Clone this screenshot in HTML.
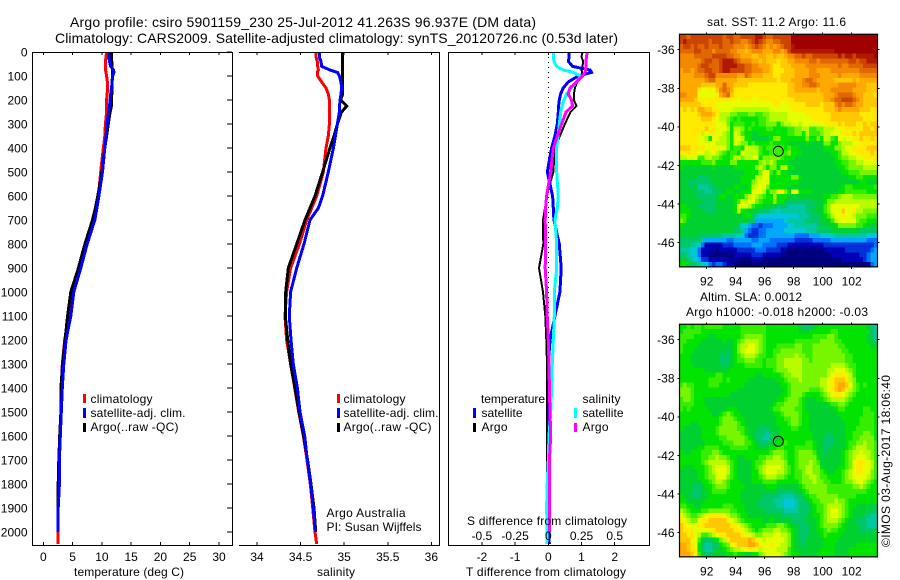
<!DOCTYPE html>
<html>
<head>
<meta charset="utf-8">
<title>Argo profile</title>
<style>
html,body{margin:0;padding:0;background:#fff;}
svg{display:block;}
text{font-family:"Liberation Sans",sans-serif;font-size:12px;fill:#000;}
.ttl{font-size:14px;}
.sm{font-size:12.5px;}
</style>
</head>
<body>
<svg id="fig" xmlns="http://www.w3.org/2000/svg" width="900" height="580" viewBox="0 0 900 580">
<text class="ttl" x="70" y="27" textLength="466" lengthAdjust="spacing">Argo profile: csiro 5901159_230 25-Jul-2012 41.263S 96.937E (DM data)</text>
<text class="ttl" x="55" y="43" textLength="563" lengthAdjust="spacing">Climatology: CARS2009. Satellite-adjusted climatology: synTS_20120726.nc (0.53d later)</text>

<g id="p1"></g>
<g id="p2"></g>
<g id="p3"></g>
<g id="m1"></g>
<g id="m2"></g>

<text x="129" y="576" text-anchor="middle" textLength="110" lengthAdjust="spacing">temperature (deg C)</text>
<text x="336" y="576" text-anchor="middle" textLength="38" lengthAdjust="spacing">salinity</text>
<text x="546" y="576" text-anchor="middle" textLength="160" lengthAdjust="spacing">T difference from climatology</text>
<text x="547" y="525" text-anchor="middle" textLength="160" lengthAdjust="spacing">S difference from climatology</text>

<g>
<rect x="83" y="394" width="3" height="9" fill="#f00"/>
<rect x="83" y="408" width="3" height="10" fill="#00f"/>
<rect x="83" y="423" width="3" height="9" fill="#000"/>
<text x="90.5" y="403" textLength="62" lengthAdjust="spacing">climatology</text>
<text x="90.5" y="417" textLength="95" lengthAdjust="spacing">satellite-adj. clim.</text>
<text x="90.5" y="431" textLength="88" lengthAdjust="spacing">Argo(..raw -QC)</text>
</g>
<g>
<rect x="337" y="394" width="3" height="9" fill="#f00"/>
<rect x="337" y="408" width="3" height="10" fill="#00f"/>
<rect x="337" y="423" width="3" height="9" fill="#000"/>
<text x="343.5" y="403" textLength="62" lengthAdjust="spacing">climatology</text>
<text x="343.5" y="417" textLength="95" lengthAdjust="spacing">satellite-adj. clim.</text>
<text x="343.5" y="431" textLength="88" lengthAdjust="spacing">Argo(..raw -QC)</text>
</g>
<text x="326.5" y="517" textLength="79" lengthAdjust="spacing">Argo Australia</text>
<text x="326.5" y="531" textLength="95" lengthAdjust="spacing">PI: Susan Wijffels</text>

<g>
<text x="481" y="403" textLength="64" lengthAdjust="spacing">temperature</text>
<text x="582.5" y="403" textLength="38" lengthAdjust="spacing">salinity</text>
<rect x="473" y="408" width="3" height="10" fill="#00f"/>
<rect x="473" y="423" width="3" height="9" fill="#000"/>
<rect x="574" y="408" width="3" height="10" fill="#0ff"/>
<rect x="574" y="423" width="3" height="9" fill="#f0f"/>
<text x="481.5" y="417" textLength="41" lengthAdjust="spacing">satellite</text>
<text x="481.5" y="431" textLength="26" lengthAdjust="spacing">Argo</text>
<text x="582.5" y="417" textLength="41" lengthAdjust="spacing">satellite</text>
<text x="582.5" y="431" textLength="26" lengthAdjust="spacing">Argo</text>
</g>

<text x="707" y="26" textLength="139" lengthAdjust="spacing">sat. SST: 11.2 Argo: 11.6</text>
<text x="700" y="301" textLength="102" lengthAdjust="spacing">Altim. SLA: 0.0012</text>
<text x="686" y="316" textLength="182" lengthAdjust="spacing">Argo h1000: -0.018 h2000: -0.03</text>
<text transform="translate(890,547) rotate(-90)" textLength="172" lengthAdjust="spacing">©IMOS 03-Aug-2017 18:06:40</text>
</svg>

<script>
// ---------- profile data ----------
const depthLevels = [0,20,40,60,75,85,100,125,150,175,200,225,250,300,350,400,500,600,650,700,800,900,1000,1100,1200,1300,1400,1500,1600,1700,1800,1900,2000,2050];
const tempClim = [10.8,10.7,10.6,10.6,10.6,10.7,10.8,10.95,11.0,10.9,10.8,10.8,10.8,10.6,10.5,10.25,9.8,9.4,9.1,8.65,7.3,6.25,5.0,4.3,3.65,3.25,3.05,3.0,2.8,2.7,2.65,2.5,2.5,2.5];
const tempSat = [11.2,11.2,11.3,11.5,12.0,12.05,11.85,11.75,11.65,11.5,11.4,11.3,11.15,10.9,10.7,10.5,10.1,9.5,9.15,8.8,7.5,6.4,5.2,4.7,3.9,3.5,3.25,3.07,2.9,2.75,2.75,2.55,2.55,null];
const tempArgo = [11.6,11.65,11.7,11.75,11.8,11.8,11.8,11.75,11.7,11.7,11.65,11.65,11.4,11.1,10.8,10.5,10,9.3,8.9,8.4,7.1,6,4.7,4.15,3.7,3.3,3,3,2.8,2.65,2.55,2.5,2.5,null];
const salClim = [34.673,34.677,34.692,34.696,34.704,34.692,34.696,34.742,34.792,34.818,34.83,34.83,34.83,34.83,34.818,34.792,34.761,34.685,34.627,34.57,34.486,34.386,34.34,34.321,34.34,34.386,34.432,34.478,34.532,34.574,34.612,34.639,34.665,34.685];
const salSat = [34.715,34.715,34.734,34.742,34.837,34.922,34.945,34.964,34.971,34.964,34.952,34.948,34.945,34.922,34.899,34.876,34.818,34.753,34.704,34.608,34.539,34.455,34.386,34.371,34.39,34.417,34.463,34.493,34.547,34.577,34.616,34.646,34.669,null];
const salArgo = [34.983,34.983,34.983,34.983,34.983,34.983,34.983,34.983,34.983,34.983,34.96,35.03,34.971,34.922,34.883,34.837,34.753,34.665,34.608,34.551,34.455,34.359,34.329,34.325,34.352,34.386,34.436,34.482,34.535,34.581,34.62,34.654,34.673,null];
const tDiffSat = [.63,.62,.61,.73,1.26,1.3,.9,.6,.45,.37,.33,.31,.3,.27,.2,.1,-.03,.13,.15,.17,.33,.39,.35,.2,.05,0,0,0,0,0,0,0,.02,.03];
const tDiffArgo = [1.03,1.0,1.05,1.03,1.0,1.02,1.0,.87,.8,.77,.77,.85,.67,.5,.35,.2,.15,-.05,-.1,-.16,-.15,-.28,-.16,-.09,-.06,-.04,-.04,-.04,-.04,-.04,-.04,-.04,null,null];
const sDiffSat = [.038,.038,.043,.063,.113,.188,.243,.213,.175,.138,.118,.103,.093,.083,.073,.063,.063,.075,.068,.05,.063,.063,.045,.045,.038,.03,.025,.018,.005,0,-.008,-.013,-.008,-.008];
const sDiffArgo = [.293,.288,.283,.283,.281,.276,.258,.213,.163,.15,.175,.183,.133,.1,.068,.038,.018,-.013,-.02,-.023,-.02,-.023,-.013,-.008,0,.005,.008,.013,.018,.008,.008,.008,.008,null];

// ---------- tick labels ----------
const depthTicks = [0,100,200,300,400,500,600,700,800,900,1000,1100,1200,1300,1400,1500,1600,1700,1800,1900,2000];
const tempTicks = [0,5,10,15,20,25,30];
const salTicks = [34,34.5,35,35.5,36];
const tDiffTicks = [-2,-1,0,1,2];
const sDiffTicks = [-0.5,-0.25,0,0.25,0.5];
const lonTicks = [92,94,96,98,100,102];
const latTicks = [-36,-38,-40,-42,-44,-46];

// ---------- map data (one character per cell, base-36 colour level) ----------
const levelColors = ["#00007f","#0000b4","#0030d8","#0070ff","#00a8ff","#00c8d8","#00c8a0","#00c868","#00d030","#00e400","#38ee00","#78f600","#b8fc00","#e4ff00","#ffea00","#ffc800","#ffa800","#f48800","#e06800","#cc4400","#b01800","#a00000"];
const cellCount = 55;
const sstRows = [
"jjijj jjjjj jjijj iijjj jkkji ijjjj jllll lllll lllll lllll lllll",
"jkjjj jjjij jjiij iihhi jkjih hiijj jllll lllll lllll lllll lllll",
"ijjij iijii ijiii hhhgh ijihg hghij jklll lllll lllll lllll lllll",
"iiiij jiiih iiiih hggfg hhhgg ghhgh jkkkk kkkkk kkkll lllll lllll",
"hhhhi iiiij jjjii hhggg ffggf fgffg hhiij iijjj jjjjk jkkjk kkkkl",
"hhhhh hijji ijkkk jihhh ggfgf ffeff gghhh hiihi iiiii iijji jjkkk",
"hhhhh ijjii ijkkk kjjii hhggg feeff fgggg hhhhh hhhhi hhiii ijjjj",
"ghhgh iijji ijkkj jjjii hhhgg feeef ffggg ghhgg gghhh hhhhh iiiii",
"ggggh hhijj hhhhh hggih gggff feeff ffggg ghhhg ggggh ggggg hhhhh",
"ggggg gghii ggggg gffff fffff ffeff fgggh iihgg gggff fffgf ggggg",
"ggggg gffff ggigg ffffe eeeee eeeee ffggh hiihg ggggh hhhhg ggfff",
"ggggg edded fhihg eeeee eeeee eeeee ffggg gggfg gghhh hhhgg ggfff",
"hhggg ddddd eghif eeeee eeeee eeeee fffff fffff ggghi iiihg gfffe",
"ggggf eeeee eeeee edeee ddeee eeeee eefff fffff gghii jjjih gffff",
"fffff feeee ddddd ddddd ddddd deedd eeeee ffffe fffhi hiihg gffff",
"efefe ggffe edddd ccccc ccccc ddddd deeee eeeee fffgh ggggg fffee",
"eeeee fgggf ecccb baaab baabb ccccc ddddd eeeee eefff fffff eeeee",
"eeeee efffe dccba 9a999 99aab ccccc ddddd ddeee eefff fffff feeee",
"eeeee eeeee dddb9 aaa99 a9aab bb9bc cddcd ddddd eeeef efffe efeff",
"eeeee eefee dddc9 ccb9a 9999a a9999 aabbc caabb cccdd eeeee effef",
"eeeee ecdee ddcb9 dca99 88999 99999 aabb9 caaab ccddd eeefe fffff",
"eeeee ddc9d dccb9 ddc99 88888 9bb99 99999 b99b9 cca9d dddee feefe",
"eeeee ddddd cccb9 dcbb9 a9999 a9999 88888 98888 bb99b cccdd eeeee",
"fffee eedde dddb9 aa9dc cca9a aaaa9 a9988 88888 999bb cddee eefff",
"eeeee ddcdd cba9a a9dcc cca99 aaaaa b9998 88888 8899a ccdde eeefe",
"ccddd aaccb ba99a ccbcc dd9bb bbba9 99888 88888 8889a bbccd deeee",
"99999 9aaab 9999b b9999 99bcb cb999 88888 88888 88899 aabbc cdddd",
"98888 88889 88888 99999 9bcb9 bb9cc 99888 88888 88889 9abbb bcccc",
"88888 88888 88888 88899 99bdd a9b99 88888 88888 88888 99aaa bbbbb",
"88888 77788 88888 88999 9ccdd 99999 9bb98 88888 88888 8899a a9999",
"88777 77778 88888 88999 bcddd 99999 99988 88888 88888 88888 99888",
"88878 66677 88888 99889 cdddb 99999 88888 88888 88888 9aa99 9999a",
"88887 77667 77899 88999 dddc9 bbeeb 9dd99 99888 88889 9aaaa aa999",
"88888 77777 89988 999bc dcba9 9c999 88888 88888 99aab cccbb bbbbb",
"88888 88777 88888 9adcd dba99 9b998 77777 77888 9bbcc ccccc ccccc",
"99888 77777 88888 9dddc a9988 88777 66666 77788 abddd ddddd ccccc",
"99988 88777 88888 9c998 88777 66566 66666 77888 abddd fddec cbbbb",
"aa988 88888 88888 88899 76555 55555 55566 67778 9acdd eddcb bbaaa",
"ba888 88888 88888 88887 74444 44445 66666 77778 88acd ddddb aa999",
"98888 88888 88888 87554 33233 34444 55666 66677 8889b bbbba a9888",
"88888 88888 88888 77643 22334 44445 55555 66677 77888 88888 77777",
"88888 77777 77666 66532 22334 44444 44333 34445 55566 66666 66555",
"77777 76444 44433 44444 33444 33333 33222 22333 33444 44444 44333",
"77766 53111 11222 33333 44433 33222 11111 11111 22222 22222 22223",
"66655 31111 01111 12222 23332 22211 00000 00000 11111 12222 22234",
"77655 31100 00000 11111 22211 11100 00000 00000 00111 11111 22344",
"88765 42211 11110 10000 11100 00000 00000 00000 00000 11111 12344",
"99877 65532 33211 00000 00000 00000 00000 00000 00000 00000 00034"
];
const slaRows = [
"99a9a a9aaa aa999 99aaa aaaa9 99999 99987 77899 99999 99999 99876",
"9aaaa a9999 99999 99aaa aaaa9 99999 99988 89999 99aa9 99999 99876",
"aaaa9 99988 99999 99abb bbba9 99999 99999 99aaa abba9 99999 99876",
"aa999 98888 88988 9abcc ccba9 99999 99aaa aaaab bbbaa 99999 99887",
"a9999 88888 88888 9bccd dcba9 99aaa aabba aabbb bbbba a9999 99988",
"a9998 88888 88878 9bcdd dcba9 9aabb bbbba aabbb bbbbb aa999 99999",
"99988 88888 87778 9abcc cbaa9 9abbb bbcbb aabbb bbbbb baa99 99999",
"99988 88888 87778 9aabb baa9a aabbc ccccb babbb bbbbb baa99 99999",
"99998 88888 88788 999aa aaa9a aabbc ccccb bbbbb bbccc cbaa9 99999",
"99999 99888 88889 99999 99999 9abbb ccccb bbbbb bccdd dcba9 99999",
"99999 99999 aa999 99999 98899 999ab bcccb bbbbb bcdee edca9 99999",
"99999 999aa aa9a9 99998 88888 8899a bbbcb bbbbc cdeff fecb9 99999",
"abaa9 999aa a9999 99988 88888 88899 abbbb bbbbc cdefg gfdba 9a999",
"bbba9 99999 99999 98888 88888 88889 abbbb baaab cdefg fecba 99999",
"bbba9 99999 99998 88888 88888 88899 abbba 9999a bcdee dcba9 99999",
"abba9 99888 88888 88888 88888 8899a bbba9 88899 abccc cba99 99999",
"aaaa9 99888 88888 88888 88888 89aab bbba9 88888 89aab ba999 99999",
"a9a99 99988 88899 98888 88888 9aabb bbaa9 88888 8889a a9999 9aa99",
"99999 99998 89aba 99888 88888 899ab bbba9 98888 88889 99999 9aaa9",
"99999 99999 9abbb a9988 88888 8899a abba9 98888 88888 99999 aaaa9",
"99988 99999 9abbb ba988 88888 88999 abba9 98888 88888 89999 aaaa9",
"98888 89999 abbbb baa98 88777 88899 9aa99 98888 88888 8999a aaaa9",
"88888 89999 abbbb bba98 87776 78899 99999 99888 87888 899aa abba9",
"88888 89999 9aabb bbba9 87766 78899 99999 99888 77788 899aa bbbb9",
"88888 88999 99aaa bbbaa 98777 8899a 99999 aa988 77788 89aab bcbba",
"88888 99aaa a999a aaaa9 98888 99aa9 99aaa aa988 77888 89abc ccbba",
"98899 9aaab ba999 99999 99999 abbba 99abb bba88 78888 9abcc dccba",
"99999 9aabb cbba9 98899 99aab bccba 99abb bbb98 88888 9abcd ddcba",
"99999 9abcc cccba 98888 9aabc ccccb 99abb bcba8 88888 9abde eddca",
"98889 99abc dddca 98888 9abcd dddcb a9abb ccbb9 88889 9abde eddca",
"88888 99abc dddca 98888 99bcd ddccb a9aab ccbba 98899 abcde eddba",
"88888 99abb dddba 98888 99abc ccbba 99aab bccba a9999 abcdd ddcba",
"88888 899ab ccba9 99888 999aa aa999 999ab bbcbb aa999 abbcd dcba9",
"88887 7899a bbba9 99988 88889 99888 8889a bbbbb baaaa aaabb cba99",
"88877 7889a aaa99 99888 88888 88777 77889 abbbb baaaa aaaaa aa999",
"98877 78899 99999 99888 88877 77766 66778 9aabb bbbba aaaa9 99999",
"99888 88999 99999 99888 88777 76665 55677 89aab bbbcb ba999 99999",
"aa998 89999 99aaa 99988 88777 77665 55677 789aa bcccc ba998 88887",
"cba99 9aabb bbbba a9988 88887 77776 66677 789aa bcddc ba988 88877",
"dcbaa bcdee eedcb ba998 88888 88877 77777 8899a bcddc ba988 87766",
"edcbb deeff fffed cba99 99988 98888 87777 8889a bcccb a9887 77666",
"feddd eefff ffffe edcba 9999a aabba 98877 7889a bbbba 98888 77666",
"feeed dddee fffff eedcb a9abb bccbb a9877 78899 abaa9 98888 77777",
"ffeed caabc deeff ffedd cbbcc cddcc b9877 78889 a9999 88888 88888",
"fffed a8778 9bcef ffffg fedcd ddddc b9877 88888 99998 88888 88888",
"ggfed 97667 79abd efffg gfedd eddcc b9887 88888 99988 88889 99999",
"ggfee 97667 889ab ccdde edcdd ddccc a9888 88889 99988 88999 99999",
"gggfe a8778 88899 a9988 99bcd dddcb a9988 88899 99988 88999 99999"
];
const argoLon = 96.937;
const argoLat = -41.263;

// ---------- axis functions ----------
const yDepth = d => 52 + 0.24 * d;
const xTemp = t => 43.3 + 5.857 * t;
const xSal = s => 257 + 87.17 * (s - 34);
const xTDiff = t => 548.3 + 33.2 * t;
const xSDiff = s => 548.3 + 132.8 * s;
const xLon = lon => 706.7 + 14.5 * (lon - 92);
const yLatTop = lat => 49.7 + 19.3 * (-36 - lat);
const yLatBot = lat => 339.7 + 19.3 * (-36 - lat);

const NS = "http://www.w3.org/2000/svg";
function mk(tag, attrs, parent){
  const el = document.createElementNS(NS, tag);
  for (const k in attrs) el.setAttribute(k, attrs[k]);
  parent.appendChild(el);
  return el;
}
function seg(x1, y1, x2, y2, parent){
  return mk("line", {x1:x1, y1:y1, x2:x2, y2:y2, stroke:"#000", "stroke-width":1, "shape-rendering":"crispEdges"}, parent);
}
function profile(values, xFn, color, width, parent, name){
  const pts = [];
  values.forEach((v, i) => { if (v !== null) pts.push(xFn(v).toFixed(1) + "," + yDepth(depthLevels[i]).toFixed(1)); });
  const line = mk("polyline", {points:pts.join(" "), fill:"none", stroke:color, "stroke-width":width, "stroke-linejoin":"miter", "shape-rendering":"crispEdges"}, parent);
  
  
  return line;
}

const TOP = 52, BOT = 545;

// ---------- temperature panel ----------
const p1 = document.getElementById("p1");
profile(tempClim, xTemp, "#f00", 3, p1, "temperature-climatology-line");
profile(tempArgo, xTemp, "#000", 3, p1, "temperature-argo-line");
profile(tempSat, xTemp, "#00f", 3, p1, "temperature-satellite-line");
const p1Frame = mk("rect", {x:32.5, y:TOP+0.5, width:200, height:BOT-TOP, fill:"none", stroke:"#000", "stroke-width":1, "shape-rendering":"crispEdges"}, p1);


depthTicks.forEach(d => {
  const y = yDepth(d);
  const tick = seg(227, y, 232, y, p1);
  
  
  const lab = mk("text", {x:27.5, y:y+4.3, "text-anchor":"end"}, p1);
  
  
  lab.textContent = d;
});
tempTicks.forEach(t => {
  const x = xTemp(t);
  const top = seg(x, TOP, x, TOP+3, p1);
  
  
  const bot = seg(x, BOT-3, x, BOT, p1);
  
  
  const lab = mk("text", {x:x, y:561, "text-anchor":"middle"}, p1);
  
  
  lab.textContent = t;
});

// ---------- salinity panel ----------
const p2 = document.getElementById("p2");
profile(salClim, xSal, "#f00", 3, p2, "salinity-climatology-line");
profile(salArgo, xSal, "#000", 3, p2, "salinity-argo-line");
profile(salSat, xSal, "#00f", 3, p2, "salinity-satellite-line");
const p2Top = seg(239, TOP+0.5, 440, TOP+0.5, p2);


const p2Bot = seg(239, BOT+0.5, 440, BOT+0.5, p2);


const p2Right = seg(439.5, TOP, 439.5, BOT+1, p2);


salTicks.forEach(s => {
  const x = xSal(s);
  const top = seg(x, TOP, x, TOP+3, p2);
  
  
  const bot = seg(x, BOT-3, x, BOT, p2);
  
  
  const lab = mk("text", {x:x, y:561, "text-anchor":"middle"}, p2);
  
  
  lab.textContent = s;
});

// ---------- difference panel ----------
const p3 = document.getElementById("p3");
const zeroLine = mk("line", {x1:xTDiff(0), y1:TOP, x2:xTDiff(0), y2:BOT, stroke:"#000", "stroke-width":1, "stroke-dasharray":"1 4", "shape-rendering":"crispEdges"}, p3);


profile(tDiffArgo, xTDiff, "#000", 2, p3, "t-difference-argo-line");
profile(tDiffSat, xTDiff, "#00f", 3, p3, "t-difference-satellite-line");
profile(sDiffSat, xSDiff, "#0ff", 3, p3, "s-difference-satellite-line");
profile(sDiffArgo, xSDiff, "#f0f", 3, p3, "s-difference-argo-line");
const p3Frame = mk("rect", {x:448.5, y:TOP+0.5, width:201, height:BOT-TOP, fill:"none", stroke:"#000", "stroke-width":1, "shape-rendering":"crispEdges"}, p3);


tDiffTicks.forEach(t => {
  const x = xTDiff(t);
  const top = seg(x, TOP, x, TOP+3, p3);
  
  
  const bot = seg(x, BOT-3, x, BOT, p3);
  
  
  const lab = mk("text", {x:x, y:561, "text-anchor":"middle"}, p3);
  
  
  lab.textContent = t;
});
sDiffTicks.forEach(s => {
  const lab = mk("text", {x:xSDiff(s), y:540, "text-anchor":"middle"}, p3);
  
  
  lab.textContent = s;
});

// ---------- maps ----------
function drawMap(groupId, rows, yLat, cellName){
  const g = document.getElementById(groupId);
  const left = 679.5, right = 877.5, top = yLat(-35.2), bot = yLat(-47.25);
  const cw = (right - left) / cellCount, ch = (bot - top) / rows.length;
  rows.forEach((row, r) => {
    const chars = row.replace(/ /g, "");
    for (let c = 0; c < chars.length; c++) {
      const cell = mk("rect", {x:(left + c*cw).toFixed(2), y:(top + r*ch).toFixed(2), width:(cw+0.5).toFixed(2), height:(ch+0.5).toFixed(2), fill:levelColors[parseInt(chars[c], 36)], "shape-rendering":"crispEdges"}, g);
      
      
    }
  });
  const frame = mk("rect", {x:left, y:top, width:right-left, height:bot-top, fill:"none", stroke:"#000", "stroke-width":1.2}, g);
  
  
  lonTicks.forEach(lon => {
    const x = xLon(lon);
    const t1 = seg(x, top-2, x, top, g);
    
    
    const t2 = seg(x, bot, x, bot+2, g);
    
    
    const lab = mk("text", {x:x, y:bot+18.5, "text-anchor":"middle"}, g);
    
    
    lab.textContent = lon;
  });
  latTicks.forEach(lat => {
    const y = yLat(lat);
    const t1 = seg(left-2, y, left, y, g);
    
    
    const t2 = seg(right, y, right+2, y, g);
    
    
    const lab = mk("text", {x:674.5, y:y+4.3, "text-anchor":"end"}, g);
    
    
    lab.textContent = lat;
  });
  const marker = mk("circle", {cx:xLon(argoLon), cy:yLat(argoLat), r:5, fill:"none", stroke:"#000", "stroke-width":1}, g);
  
  
}
drawMap("m1", sstRows, yLatTop, "sst-cell");
drawMap("m2", slaRows, yLatBot, "sla-cell");
</script>
</body>
</html>
